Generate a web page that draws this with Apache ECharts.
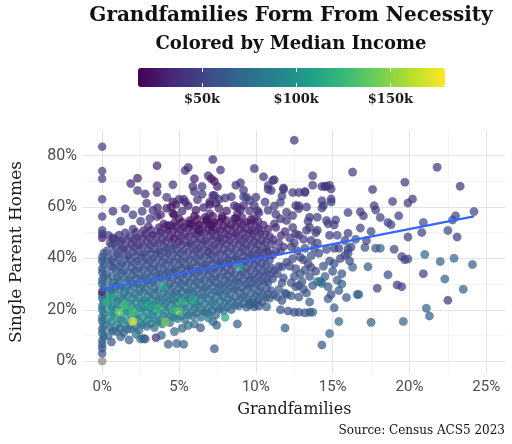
<!DOCTYPE html>
<html><head><meta charset="utf-8">
<script src="https://cdn.jsdelivr.net/npm/echarts@6/dist/echarts.min.js"></script>
<style>html,body{margin:0;padding:0;background:#fff}#c{width:512px;height:444px}</style>
</head><body><div id="c"></div>
<script>
// ---- tick values ----
const xTicks = [0, 5, 10, 15, 20, 25];
const xMinorTicks = [2.5, 7.5, 12.5, 17.5, 22.5];
const yTicks = [0, 20, 40, 60, 80];
const yMinorTicks = [10, 30, 50, 70];
const incomeTicks = [50, 100, 150];
const incomeRange = [16, 179];
// ---- data: [grandfamilies %, single parent homes %, median income $k] ----
const zeroGrandfamilies = [
[0,3,60],[0,5,62],[0,6.5,64],[0,8,66],[0.1,9.5,62],[0,11,70],[0,12.5,66],[0.1,14,72],[0,15.5,68],[0,17,76],[0.1,18.5,72],[0,20,80],[0,21.5,74],[0.1,23,78],[0,24.5,70],[0,26,74],[0,27,26],[0.1,28.5,68],[0,30,70],[0,31.5,66],[0.1,33,64],[0,34.5,68],[0,36,62],[0.1,37.5,64],[0,39,60],[0,40.5,62],[0.1,42,58],[0,48,30],[0,49.5,40],[0,51,46],[0,56.3,44],[0,63,46],[0,71,48],[0,74,48],[0,83.5,46]
];
const coreCounties = [
[0.4,10,70],[0.5,13,72],[0.3,16,86],[0.5,19,92],[0.4,22,84],[0.3,25,80],[0.5,28,74],[0.4,31,70],[0.3,34,64],[0.5,37,62],[0.4,40,58],[0.3,43,56],[0.5,46,50],[0.4,49,46],
[0.9,11.5,72],[1.0,14.5,86],[0.8,17.5,100],[0.9,20.5,90],[1.0,23.5,82],[0.8,26.5,76],[0.9,29.5,70],[1.0,32.5,66],[0.9,35.5,62],[0.8,38.5,58],[1.0,41.5,54],[0.9,44.5,50],[0.8,47.5,46],
[1.4,11,68],[1.5,14,82],[1.3,17,96],[1.4,20,104],[1.5,23,86],[1.4,26,78],[1.3,29,72],[1.5,32,66],[1.4,35,62],[1.3,38,58],[1.5,41,54],[1.4,44,28],[1.3,47,48],[1.5,50,42],
[1.9,12.5,74],[1.8,18.5,92],[1.9,21.5,98],[2.0,24.5,82],[1.8,27.5,76],[1.9,30.5,70],[2.0,33.5,64],[1.9,36.5,60],[1.8,39.5,56],[2.0,42.5,52],[1.9,45.5,30],[1.8,48.5,46],[2.0,51.5,40],
[2.4,12,70],[2.5,15,88],[2.3,18,94],[2.4,21,90],[2.5,24,82],[2.4,27,74],[2.3,30,68],[2.5,33,64],[2.4,36,60],[2.3,39,56],[2.5,42,52],[2.4,45,26],[2.3,48,46],
[2.9,13.5,76],[3.0,16.5,90],[2.8,19.5,96],[2.9,22.5,86],[3.0,25.5,78],[2.8,28.5,72],[2.9,31.5,66],[3.0,34.5,62],[2.9,37.5,58],[2.8,40.5,54],[3.0,43.5,50],[2.9,46.5,46],[2.8,49.5,40],[3.0,52.5,36],
[3.4,13,72],[3.5,16,86],[3.3,19,92],[3.4,22,84],[3.5,25,78],[3.4,28,70],[3.3,31,66],[3.5,34,60],[3.4,37,58],[3.3,40,54],[3.5,43,50],[3.4,46,44],[3.3,49,40],
[3.9,14.5,80],[4.0,17.5,88],[3.8,20.5,94],[3.9,23.5,82],[4.0,26.5,76],[3.8,32.5,64],[4.0,35.5,60],[3.9,38.5,56],[3.8,41.5,52],[4.0,44.5,48],[3.9,47.5,42],[3.8,50.5,36],[4.0,53.5,32],
[4.4,15,80],[4.5,18,84],[4.3,21,80],[4.4,24,76],[4.5,27,70],[4.4,30,66],[4.3,33,62],[4.5,36,58],[4.4,39,55],[4.3,42,52],[4.5,45,48],[4.4,48,42],[4.3,51,36],
[4.9,16.5,82],[4.8,22.5,84],[4.9,25.5,76],[5.0,28.5,70],[4.9,31.5,64],[4.8,34.5,60],[5.0,37.5,56],[4.9,40.5,54],[4.8,43.5,50],[5.0,46.5,22],[4.9,49.5,40],[4.8,52.5,32],[5.0,55.5,28],
[5.4,16,76],[5.5,19,82],[5.3,22,92],[5.4,25,78],[5.5,28,70],[5.4,31,64],[5.3,34,60],[5.5,37,56],[5.4,40,54],[5.3,43,50],[5.5,46,44],[5.4,49,38],[5.3,52,30],
[5.9,17.5,78],[6.0,20.5,80],[5.8,23.5,90],[5.9,26.5,74],[6.0,29.5,68],[5.9,32.5,62],[5.8,35.5,58],[6.0,38.5,55],[5.9,41.5,52],[5.8,44.5,48],[6.0,47.5,42],[5.9,50.5,34],[5.8,53.5,26],[6.0,56.5,24],
[6.4,17,74],[6.5,20,78],[6.3,23,80],[6.4,26,74],[6.5,29,68],[6.4,32,62],[6.3,35,58],[6.5,38,55],[6.4,41,52],[6.3,44,48],[6.5,47,42],[6.4,50,32],[6.3,53,26],
[6.9,18.5,72],[7.0,21.5,78],[6.8,24.5,80],[6.9,27.5,70],[7.0,30.5,64],[6.9,33.5,60],[6.8,36.5,56],[7.0,39.5,54],[6.9,42.5,22],[6.8,45.5,46],[7.0,48.5,40],[6.9,51.5,30],[6.8,54.5,26],[7.0,57.5,32],
[7.4,18,70],[7.5,21,76],[7.3,24,74],[7.4,27,68],[7.5,30,64],[7.4,33,58],[7.3,36,56],[7.5,39,52],[7.4,42,50],[7.3,45,44],[7.5,48,38],[7.4,51,30],[7.3,54,24],
[7.9,19.5,72],[8.0,22.5,74],[7.8,25.5,70],[7.9,28.5,66],[8.0,31.5,62],[7.9,34.5,58],[7.8,37.5,54],[8.0,40.5,52],[7.9,43.5,48],[7.8,46.5,42],[8.0,49.5,36],[7.9,52.5,28],[7.8,55.5,26],
[8.4,20,68],[8.5,23,72],[8.3,26,68],[8.4,29,64],[8.5,32,60],[8.4,35,56],[8.3,38,54],[8.5,41,50],[8.4,44,46],[8.3,47,40],[8.5,50,34],[8.4,53,28],
[8.9,21.5,70],[9.0,24.5,68],[8.8,27.5,64],[8.9,30.5,62],[9.0,33.5,58],[8.8,39.5,52],[9.0,42.5,50],[8.9,45.5,44],[8.8,48.5,38],[9.0,51.5,32],[8.9,54.5,28],[8.8,57.5,34],
[9.4,21,66],[9.5,24,68],[9.3,27,64],[9.4,30,60],[9.5,33,58],[9.4,36,54],[9.3,39,52],[9.5,42,50],[9.4,45,44],[9.3,48,40],[9.5,51,34],[9.4,54,30],
[9.9,22.5,64],[10.0,25.5,66],[9.8,28.5,62],[9.9,31.5,58],[10.0,34.5,56],[9.9,37.5,52],[9.8,40.5,50],[10.0,43.5,46],[9.9,46.5,42],[9.8,49.5,36],[10.0,52.5,32],[9.9,55.5,34],
[10.4,23,62],[10.5,26,64],[10.3,29,60],[10.4,32,58],[10.5,35,54],[10.4,38,52],[10.3,41,50],[10.5,44,46],[10.4,47,40],[10.3,50,36],[10.5,53,32],
[10.9,24.5,62],[11.0,27.5,64],[10.8,30.5,58],[10.9,33.5,56],[11.0,36.5,52],[10.9,39.5,50],[10.8,42.5,46],[11.0,45.5,42],[10.9,48.5,38],[10.8,51.5,34],
[11.4,25,60],[11.5,28,62],[11.4,34,54],[11.5,37,52],[11.3,43,46],[11.5,46,42],[11.3,52,34],
[11.9,26.5,60],[11.8,32.5,54],[12.0,38.5,50],[11.8,44.5,42],[11.9,50.5,36]
];
const coreCountiesInfill = [
[0.7,11.8,66],[0.6,15.2,82],[0.7,18.3,96],[0.65,21.2,86],[0.7,24.1,80],[0.6,27.3,72],[0.7,30.2,68],[0.65,33.1,64],[0.7,36.3,60],[0.6,39.2,56],[0.7,42.1,52],[0.65,45.3,48],
[1.15,12.8,70],[1.2,16.1,90],[1.1,21.9,94],[1.2,24.8,80],[1.15,27.9,74],[1.1,31.2,68],[1.2,34.1,62],[1.15,37,58],[1.1,40.2,54],[1.2,43.1,50],[1.15,46.2,44],[1.1,49.1,38],
[1.65,12.4,72],[1.7,15.6,86],[1.6,19.3,100],[1.7,22.6,88],[1.65,25.7,78],[1.6,28.8,72],[1.7,31.9,66],[1.65,34.8,62],[1.6,38,56],[1.7,41,52],[1.65,44,48],[1.6,47.2,44],
[2.15,13.6,74],[2.2,16.8,90],[2.1,19.9,96],[2.2,23,84],[2.15,26.1,76],[2.1,29.2,70],[2.2,32.3,64],[2.15,35.2,60],[2.1,38.2,56],[2.2,41.1,52],[2.15,44.2,46],[2.1,47.3,42],[2.2,50.2,38],
[2.65,14.2,80],[2.7,17.3,92],[2.6,20.6,88],[2.7,23.7,80],[2.65,26.9,74],[2.6,29.8,68],[2.7,32.9,62],[2.65,35.9,58],[2.6,38.9,54],[2.7,41.9,50],[2.65,45,44],[2.6,48,38],[2.7,50.9,34],
[3.15,14.6,78],[3.2,17.9,90],[3.1,20.8,86],[3.2,23.8,80],[3.15,26.8,72],[3.1,29.9,66],[3.2,33,62],[3.15,36,56],[3.1,39,54],[3.2,42,50],[3.15,45,44],[3.1,48,38],[3.2,51,32],
[3.65,15.4,84],[3.7,18.6,90],[3.6,21.6,84],[3.7,24.6,78],[3.65,27.7,70],[3.6,30.7,64],[3.7,33.8,60],[3.65,36.8,56],[3.6,39.8,52],[3.7,42.9,48],[3.65,46,42],[3.6,49,36],[3.7,52,30],
[4.15,16.2,80],[4.2,19.3,84],[4.1,22.4,80],[4.2,25.4,74],[4.15,28.6,68],[4.1,31.6,62],[4.2,34.6,58],[4.15,37.7,55],[4.1,40.6,52],[4.2,43.7,48],[4.15,46.7,40],[4.1,49.8,34],[4.2,52.8,28],
[4.65,17.2,80],[4.7,20.6,86],[4.6,23.6,78],[4.7,26.6,72],[4.65,29.7,66],[4.6,32.7,60],[4.7,35.8,56],[4.65,38.8,54],[4.6,41.8,50],[4.7,44.9,46],[4.65,47.9,24],[4.6,50.9,30],[4.7,53.9,26],
[5.15,17.6,78],[5.2,20.8,80],[5.1,24,76],[5.2,27,70],[5.15,30,64],[5.1,33.1,60],[5.2,36.1,56],[5.15,39.1,54],[5.1,42.1,50],[5.2,45.2,44],[5.15,48.2,38],[5.1,51.2,30],[5.2,54.2,24],
[5.65,18.1,76],[5.7,21.3,80],[5.6,24.4,74],[5.7,27.4,68],[5.65,30.5,62],[5.6,33.5,58],[5.7,36.6,55],[5.65,39.6,52],[5.6,42.6,48],[5.7,45.7,42],[5.65,48.7,36],[5.6,51.8,28],[5.7,54.8,24],
[6.15,18.8,74],[6.2,21.9,78],[6.1,24.9,72],[6.2,28,66],[6.15,31,62],[6.1,34.1,58],[6.2,37.1,54],[6.15,40.2,52],[6.1,43.2,48],[6.2,46.2,42],[6.15,49.3,34],[6.1,52.3,26],[6.2,55.3,22],
[6.65,19.2,72],[6.7,22.4,76],[6.6,25.5,72],[6.7,28.6,64],[6.65,31.6,60],[6.6,34.7,56],[6.7,37.7,54],[6.65,40.8,50],[6.6,43.8,46],[6.7,46.9,40],[6.65,49.9,32],[6.6,53,26],[6.7,56,28],
[7.15,19.7,70],[7.2,22.8,74],[7.1,25.9,70],[7.2,29,64],[7.15,32,60],[7.1,35.1,56],[7.2,38.1,52],[7.15,41.2,50],[7.1,44.2,44],[7.2,47.3,38],[7.15,50.3,30],[7.1,53.4,24],[7.2,56.4,28],
[7.65,20.4,70],[7.7,23.5,72],[7.6,26.6,68],[7.7,29.7,62],[7.65,32.7,58],[7.6,35.8,54],[7.7,38.8,52],[7.65,41.9,48],[7.6,44.9,42],[7.7,48,36],[7.65,51,28],[7.6,54.1,24],
[8.15,21.1,68],[8.2,24.2,70],[8.1,27.3,66],[8.2,30.4,60],[8.15,33.4,56],[8.1,36.5,54],[8.2,39.5,50],[8.15,42.6,48],[8.1,45.6,42],[8.2,48.7,36],[8.15,51.7,28],[8.1,54.8,26],
[8.65,21.8,68],[8.7,24.9,66],[8.6,28,62],[8.7,31.1,58],[8.65,34.1,56],[8.6,37.2,52],[8.7,40.2,50],[8.65,43.3,46],[8.6,46.3,40],[8.7,49.4,34],[8.65,52.4,28],[8.6,55.5,30],
[9.15,22.4,66],[9.2,25.5,66],[9.1,28.6,62],[9.2,31.7,58],[9.15,34.7,54],[9.1,37.8,52],[9.2,40.8,48],[9.15,43.9,46],[9.1,46.9,40],[9.2,50,34],[9.15,53,30],[9.1,56,34],
[9.65,23.1,64],[9.7,26.2,64],[9.6,29.3,60],[9.7,32.4,56],[9.65,35.4,54],[9.6,38.5,50],[9.7,41.5,48],[9.65,44.6,44],[9.6,47.6,38],[9.7,50.7,32],[9.65,53.7,32],
[10.15,24,62],[10.2,27.1,62],[10.1,30.2,58],[10.2,33.3,54],[10.15,36.3,52],[10.1,39.4,50],[10.2,42.4,46],[10.15,45.5,42],[10.1,48.5,38],[10.2,51.6,34],[10.15,54.6,36],
[10.65,24.9,62],[10.7,28,60],[10.6,31.1,56],[10.7,34.2,54],[10.65,37.2,52],[10.6,40.3,48],[10.7,43.3,44],[10.65,46.4,40],[10.6,49.4,36],
[11.15,25.9,60],[11.1,32.1,56],[11.2,35.2,52],[11.1,41.3,46],[11.15,47.4,40],[11.2,53.5,38],
[11.7,30.5,56],[11.7,36.7,52],[11.6,42.8,44],[11.65,48.9,38]
];
const lowerCounties = [
[1.75,8.2,68],[2.5,8.6,72],[2.8,8.6,70],[3.5,9.1,40],[3.85,10.1,66],[4.3,6.6,64],[4.85,6.9,68],[5.3,6.6,66],[4.7,11.5,72],[5.2,12.8,70],[5.6,13.9,80],[7.3,4.8,62],
[8.8,14.5,64],[7.45,14,70],[7.2,15.4,66],[9.9,21.2,62],[10.7,21.2,64],[1.2,9.5,66],[0.6,7.5,60],[2.2,10.5,80],[6.0,14.5,74],[6.4,13,62],[2.7,8.8,66],
[11.6,20,60],[12.1,19.5,58],[9.6,22,66],[10.2,21.5,60]
];
const upperCounties = [
[0.7,58.4,40],[0.7,48,38],[1.86,69.2,34],[2.3,71.2,32],[2.3,66.4,40],[2.8,65.1,38],[1.5,59.3,45],[2.9,61.5,42],
[3.57,76.1,32],[3.57,68.3,36],[3.57,65.7,38],[3.6,59.7,34],[3.57,56.3,40],[4.2,63.8,44],[4.6,68.7,42],[4.6,62,26],[4.5,60,30],[4.7,57,24],
[5.3,63,40],[5.4,74.2,42],[5.6,75.4,36],[6.0,71,30],[5.9,68,38],[6.0,66,42],[6.5,68,40],[6.5,65,44],[6.9,72.2,34],[7.1,71,28],[7.3,70,26],
[7.2,64.5,40],[7.2,78.5,36],[7.7,74.4,40],[7.5,68,30],[7.0,62,36],[7.4,61.5,30],[7.6,63,40],[8.4,64,42],[8.7,68.5,38],[9.0,69.5,42],[9.2,66.5,40],
[9.4,63.8,44],[9.9,75,38],[10.0,63.8,42],[9.9,60.6,40],[10.1,58.6,44],[9.6,62.5,46],[9.2,60.6,36],[8.8,60,40],[10.5,71.8,40],[11.1,70.3,44],
[10.8,68.4,46],[10.8,66.9,42],[11.8,66.8,46],[11.7,64.3,44],[11.6,61.9,48],[12,58,44],[12.4,65.7,46],[13.2,65.7,44],[12.6,60.6,42],[12.8,59.3,46],
[13.3,60,44],[13.5,56,40],[13.7,72.2,44],[13.7,68.5,46],[14.3,68,42],[14.6,68,44],[14.3,62.5,46],[14.4,60.6,48],[14.9,62,46],[13.5,52,48],
[13.9,50,46],[14.7,53.5,50],[12.4,56.7,44],[12,54.8,42],[11.6,55.4,40],[12.5,86,42],[11.0,66.4,46],[11.8,67.4,40],[11.2,70.6,44],[14.5,68.1,40],
[14.8,68.5,46],[14.9,67,42],[14.9,63.1,44],[14.3,59.6,46],[13.2,66.1,46],[12.8,65.7,40],[12.8,60.5,44],
[3.1,55.5,40],[3.8,57,34],[4.2,59.5,30],[4.6,57.5,24],[4.8,61,28],[5.2,58.5,36],[5.6,60.5,30],[6.1,58.8,26],[6.6,59.8,32],[7.0,61,28],
[7.6,59.5,34],[8.1,58.5,30],[8.6,60.5,36],[9.0,59,30],[9.6,58.5,40],[10.2,57.8,36],[10.8,58.8,42],[11.3,57.2,40],[5.0,63,38],[5.4,62,34],
[6.2,62.8,40],[7.3,64.5,38],[8.0,63.5,44],[9.2,64,46],[10.6,62,44],[11.2,60.4,46],[3.3,58.8,42],[2.6,58.4,45],[2.0,57,46],[1.2,54.5,50],
[2.5,54.5,46],[6.8,55.2,22],[7.8,56.4,24],[8.7,55.5,26],[9.7,55.2,28],[5.7,53.5,24],[4.4,52.8,28],[6.3,51,26],[7.1,52.6,24]
];
const rightCounties = [
[14,56,48],[14.6,54.8,46],[15.2,55,50],[15.1,53,44],[16,57.9,48],[16.8,58.2,44],[17,56.6,46],[16.8,51.8,50],[16,49.8,48],[15.8,47,46],
[16,43.8,44],[16.2,44.4,52],[15.8,41.2,56],[16.1,39,50],[16.3,36.6,66],[15.6,34,58],[15.6,30,70],[16.6,26,72],[15.9,24.8,60],[15.1,20.8,68],
[15.4,15.4,70],[14.8,10.8,66],[14.3,6.3,60],[13.7,19,72],[13.5,19,62],[13.2,18.8,60],[12.8,19,58],[12.5,19,56],[11.9,12.9,68],[14.7,24.3,62],
[14.9,26,58],[14.3,30.2,88],[14.2,31,70],[13.7,29.5,60],[13.3,26.5,64],[12.8,29.5,58],[12.3,25.5,62],[11.7,23.6,60],[12.6,29,60],[13.1,28,58],
[13.5,23,62],[12.8,25,60],[12,26,62],[14,31,82],[14.7,29,62],[13.5,33,56],[13.9,35,52],[14.4,37,60],[14.8,39,54],[13.4,38,54],
[13.6,41,58],[14.1,42,50],[14.6,43.5,54],[15.1,44,52],[15.4,44,48],[15.1,38,56],[15.5,40,50],[16,42,54],[14.8,49,46],[14,51,48],
[13.3,51,44],[14,46,50],[12.5,33,58],[12.6,36,56],[12.4,40,52],[12.7,43,50],[12.5,46,48],[12.8,49,46],[13,31,60],[13.2,35.5,58],
[13.1,39.5,56],[13.2,44,52],[13.1,47.5,48],[12.4,52,44],[13.4,54.5,46],[15.3,49,52],[15,35,60],[14.5,33,66],[15.4,27.5,62],[15.3,31.5,64],
[12.3,30.5,56],[12.2,37,54],[12.9,40.5,50],[12.3,44.5,46],[12.6,49.5,40],[12.9,34,60],[13.6,36.5,52],[13.8,44,56],[12.2,48,42],[13.6,47,42],
[16.3,73.6,44],[17.7,60.5,46],[17.8,58.9,48],[17.6,66.8,44],[18.1,55.9,48],[18.6,54,46],[18.8,53.1,52],[18.9,62.2,46],[19.3,56.6,48],[19.7,69.7,44],
[19.9,61.6,46],[20.2,63.1,44],[19,43.6,50],[19.5,40.7,52],[19.7,39.5,48],[19.9,39.8,56],[19.9,48.3,48],[17.8,44,62],[18.1,44,66],[17.1,44.3,60],
[17.3,36.8,64],[17.9,28.4,48],[18.6,33.6,56],[19.2,29.7,44],[19.5,29,46],[19.6,15.4,68],[17.5,15.1,66],[20.9,34,48],[21,41.5,70],[20.8,50.1,48],
[20.9,54,54],[21.1,20.6,70],[21.3,17.6,66],[22,38.8,68],[22.3,32,68],[22.5,50.9,52],[22.5,23.7,42],[22.9,40.1,68],[23.1,48.3,46],[23,56.6,50],
[22.8,55,54],[23.3,68.1,40],[21.8,75.5,44],[24.2,58.3,50],[24.1,37.6,66],[23.5,28,66],[16.7,26,70],[17.2,47,50],[16.5,47.5,56],[17.5,50.5,52]
];
const highIncomeCounties = [
[0.25,23,120],[1.1,19,140],[2.0,19,130],[3.6,20.5,125],[4.6,20,118],[5.0,19.3,135],[5.2,23,118],[5.9,24,112],[4.1,15.4,145],[4.0,29,105],
[8,17,112],[9,36.7,100],[6.9,16.8,90],[1.5,22,128],[3.0,22,110],[0.6,25,110],[2.0,15.4,172]
];
const missingIncome = [[0,0]];
const trendLine = [[0,28],[24.2,56.4]];

const viridis = ['#440154','#482878','#3e4989','#31688e','#26828e','#1f9e89','#35b779','#6ece58','#b5de2b','#fde725'];
const sans = 'Roboto, "Noto Sans", sans-serif';
const slab = '"DejaVu Serif", serif';
const denseStyle = {opacity: 0.72};
const sparseStyle = {opacity: 0.72, borderWidth: 0.6, borderColor: 'rgba(40,40,70,0.35)'};
function scatter(name, data, style) {
  return {type: 'scatter', name, data, symbolSize: 8.5, itemStyle: style, z: 10, emphasis: {disabled: true}};
}
function near(list, v) { return list.some(t => Math.abs(t - v) < 1e-6); }
const major = {color: '#e3e3e3', width: 1, type: 'solid'};
const minor = {color: '#f1f1f1', width: 0.8, type: 'solid'};
const gridLines = [].concat(
  xTicks.map(v => ({xAxis: v, lineStyle: major})),
  xMinorTicks.map(v => ({xAxis: v, lineStyle: minor})),
  yTicks.map(v => ({yAxis: v, lineStyle: major})),
  yMinorTicks.map(v => ({yAxis: v, lineStyle: minor}))
);

const chart = echarts.init(document.getElementById('c'));
chart.setOption({
  animation: false,
  backgroundColor: '#fff',
  graphic: [
    {type: 'text', x: 291, y: 6, style: {text: 'Grandfamilies Form From Necessity', textAlign: 'center', fill: '#111', font: 'bold 20px "DejaVu Serif", serif'}},
    {type: 'text', x: 291, y: 35, style: {text: 'Colored by Median Income', textAlign: 'center', fill: '#111', font: 'bold 18px "DejaVu Serif", serif'}},
    {type: 'text', x: 505, y: 425, style: {text: 'Source: Census ACS5 2023', textAlign: 'right', fill: '#111', font: '12px "DejaVu Serif", serif'}}
  ],
  grid: [
    {left: 76.5, right: 6.5, top: 130, bottom: 70},
    {left: 138, top: 68, width: 307, height: 19}
  ],
  visualMap: {
    type: 'continuous', min: incomeRange[0], max: incomeRange[1], dimension: 2,
    seriesIndex: [1, 2, 3, 4, 5, 6, 7], orient: 'horizontal', left: 138, top: 68,
    itemWidth: 19, itemHeight: 307, padding: 0, calculable: false, hoverLink: false,
    inRange: {color: viridis}
  },
  xAxis: [
    {type: 'value', gridIndex: 0, min: -1.25, max: 26.25, interval: 1.25,
     axisLine: {show: false}, axisTick: {show: false}, splitLine: {show: false},
     axisLabel: {formatter: v => near(xTicks, v) ? Math.round(v) + '%' : '', color: '#4d4d4d', fontSize: 15, fontFamily: sans, margin: 6},
     name: 'Grandfamilies', nameLocation: 'middle', nameGap: 28,
     nameTextStyle: {fontFamily: slab, fontSize: 16, color: '#1a1a1a'}},
    {type: 'value', gridIndex: 1, min: incomeRange[0], max: incomeRange[1], position: 'bottom', z: 10,
     axisLine: {show: false}, splitLine: {show: false},
     axisTick: {show: true, inside: true, length: 4, customValues: incomeTicks, lineStyle: {color: '#fff', width: 1}},
     axisLabel: {customValues: incomeTicks, formatter: '${value}k', fontFamily: slab, fontWeight: 'bold', fontSize: 13, color: '#1a1a1a', margin: 6}},
    {type: 'value', gridIndex: 1, min: incomeRange[0], max: incomeRange[1], position: 'top', z: 10,
     axisLine: {show: false}, splitLine: {show: false}, axisLabel: {show: false},
     axisTick: {show: true, inside: true, length: 4, customValues: incomeTicks, lineStyle: {color: '#fff', width: 1}}}
  ],
  yAxis: [
    {type: 'value', gridIndex: 0, min: -5, max: 90, interval: 5,
     axisLine: {show: false}, axisTick: {show: false}, splitLine: {show: false},
     axisLabel: {formatter: v => near(yTicks, v) ? Math.round(v) + '%' : '', color: '#4d4d4d', fontSize: 16, fontFamily: sans, margin: 6},
     name: 'Single Parent Homes', nameLocation: 'middle', nameGap: 58, nameRotate: 90,
     nameTextStyle: {fontFamily: slab, fontSize: 17, color: '#1a1a1a'}},
    {type: 'value', gridIndex: 1, show: false, min: 0, max: 1}
  ],
  series: [
    {type: 'line', data: [], silent: true, z: 1, xAxisIndex: 0, yAxisIndex: 0,
     markLine: {silent: true, z: 1, symbol: ['none', 'none'], label: {show: false}, emphasis: {disabled: true}, data: gridLines}},
    scatter('No grandfamilies', zeroGrandfamilies, denseStyle),
    scatter('Core', coreCounties, denseStyle),
    scatter('Core infill', coreCountiesInfill, denseStyle),
    scatter('Low', lowerCounties, sparseStyle),
    scatter('Upper', upperCounties, sparseStyle),
    scatter('Right', rightCounties, sparseStyle),
    scatter('High income', highIncomeCounties, denseStyle),
    {type: 'scatter', name: 'Income missing', data: missingIncome, symbolSize: 8.5, z: 10,
     itemStyle: {color: '#8c8c8c', opacity: 0.75}},
    {type: 'line', name: 'Trend', data: trendLine, showSymbol: false, z: 12, silent: true,
     lineStyle: {color: '#3366FF', width: 2.2}}
  ]
});
</script></body></html>
